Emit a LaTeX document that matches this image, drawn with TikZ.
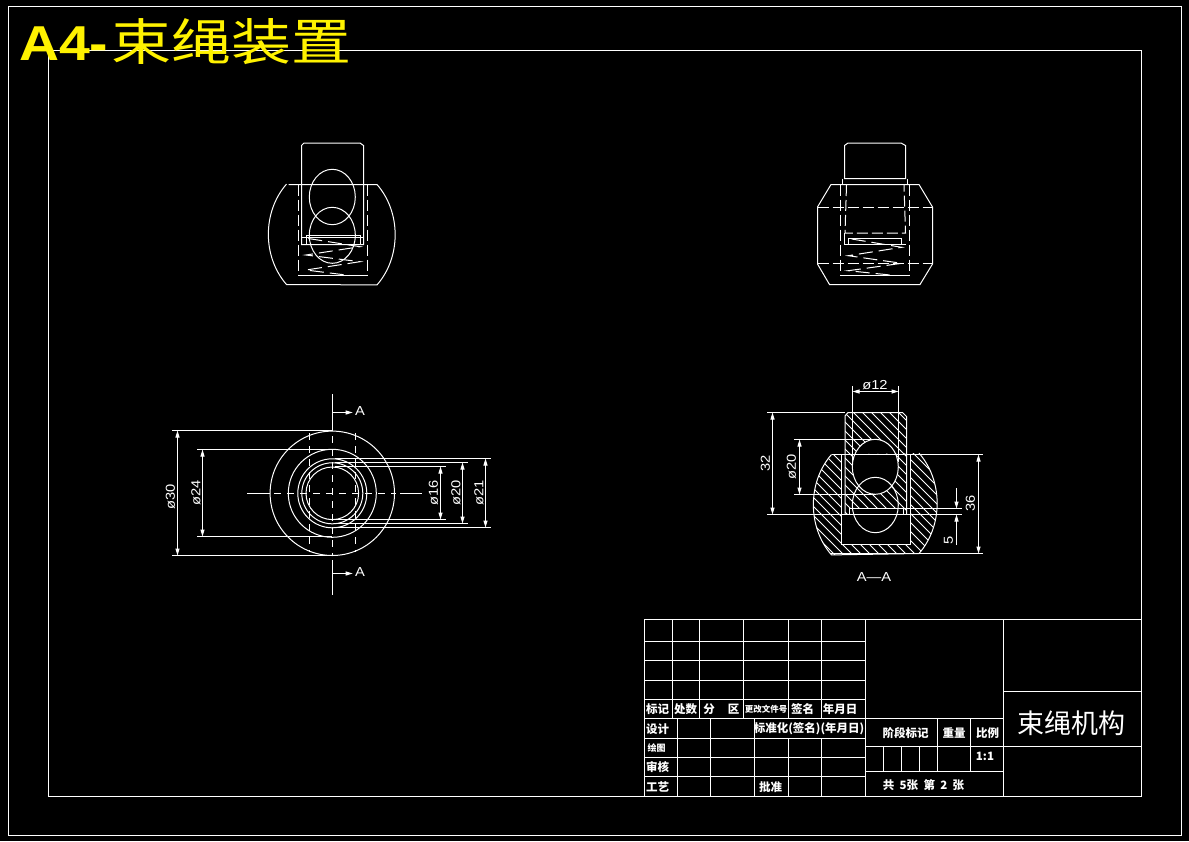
\documentclass[tikz,border=0pt]{standalone}
\usepackage{fontspec}
\setmainfont{Liberation Sans}
\newfontfamily\cjk{Noto Sans CJK SC}
\newfontfamily\cjkwide[FakeStretch=1.2]{Noto Sans CJK SC}
\newfontfamily\latinwide[FakeStretch=1.13]{Liberation Sans}
\usetikzlibrary{arrows.meta}
\tikzset{%
	solidline/.style = {white,line width=1pt},
	hidden/.style    = {white,line width=1pt,dash pattern=on 11pt off 4pt},
	centre/.style    = {white,line width=1pt,dash pattern=on 7pt off 6pt},
	spring/.style    = {white,line width=1pt,dash pattern=on 14pt off 6pt},
	dimline/.style   = {white,line width=1pt,{Triangle[length=7pt,width=4pt]}-{Triangle[length=7pt,width=4pt]}},
	oneway/.style    = {white,line width=1pt,-{Triangle[length=7pt,width=4pt]}},
	dimtext/.style   = {white,inner sep=0,font=\latinwide\fontsize{13}{13}\selectfont},
	sidedim/.style   = {dimtext,rotate=90},
	tabletext/.style = {white,inner sep=0,font=\cjk\bfseries\fontsize{11.5}{11.5}\selectfont},
	smalltext/.style = {white,inner sep=0,font=\cjk\bfseries\fontsize{9}{9}\selectfont},
}
\begin{document}
\begin{tikzpicture}[x=1pt,y=-1pt]
	\fill[black] (0,0) rectangle (1189,841);
	\useasboundingbox (0,0) rectangle (1189,841);
	\draw[solidline] (8.5,6.5) rectangle (1181.5,835.5);  % outer frame
	\draw[solidline] (48.5,50.5) rectangle (1141.5,796.5);  % inner frame
	\node[anchor=west,yellow,inner sep=0] (sheettitle) at (19,42) {\latinwide\bfseries\fontsize{49}{49}\selectfont A4-\cjkwide\mdseries\fontsize{50}{50}\selectfont\hspace{3pt}束绳装置};

	% front view
	\draw[solidline] (301.5,244.5) -- (301.5,145.5) -- (304,143) -- (360,143) -- (363.5,145.5) -- (363.5,244.5) -- cycle;
	\draw[solidline] (301.5,237.5) -- (363.5,237.5);
	\draw[solidline] (306.5,244.5) -- (306.5,235.5) -- (360,235.5) -- (360,244.5);
	\draw[solidline] (288.5,184.5) -- (377,184.5) arc[start angle=-45,end angle=45,x radius=62,y radius=71] -- (286.5,284.5) arc[start angle=135,end angle=225,x radius=62,y radius=71];
	\draw[hidden] (298.5,184.5) -- (298.5,275.5);
	\draw[hidden] (367.5,184.5) -- (367.5,275.5);
	\draw[solidline] (298.5,275.5) -- (367.5,275.5);
	\draw[solidline] (332.3,197) ellipse[x radius=23,y radius=27.7];
	\draw[solidline] (332.3,235.3) ellipse[x radius=23,y radius=28];
	\draw[spring] (308.3,238.5) -- (360,246.7) -- (306,255) -- (360,261.7) -- (306,270) -- (350,275.5);

	% side view
	\draw[solidline] (844.5,178.5) -- (844.5,145.5) -- (848,143) -- (901,143) -- (905.5,145.5) -- (905.5,178.5) -- cycle;
	\draw[solidline] (842.5,178.5) -- (842.5,184.5);
	\draw[solidline] (907.5,178.5) -- (907.5,184.5);
	\draw[solidline] (831,184.5) -- (919,184.5) -- (932.5,207) -- (932.5,264) -- (920,284.5) -- (829.5,284.5) -- (817.5,264) -- (817.5,207) -- cycle;
	\draw[hidden] (817.5,207.5) -- (932.5,207.5);
	\draw[hidden] (817.5,263.5) -- (932.5,263.5);
	\draw[hidden] (840.5,184.5) -- (840.5,275.5);
	\draw[hidden] (909.5,184.5) -- (909.5,275.5);
	\draw[solidline] (840.5,275.5) -- (909.5,275.5);
	\draw[hidden] (846.5,185) -- (845,233) -- (905.5,233) -- (904,185);
	\draw[solidline] (844.5,233) -- (844.5,244.5) -- (906,244.5);
	\draw[solidline] (848.5,244.5) -- (848.5,238.5) -- (901.5,238.5) -- (901.5,244.5);
	\draw[spring] (851.7,239) -- (901.7,247.3) -- (848.3,255.7) -- (901.7,263.3) -- (848.3,270.7) -- (895,275.5);

	% top view
	\draw[solidline] (332.3,493.3) circle[radius=62.2];
	\draw[solidline] (332.3,493.3) circle[radius=44];
	\draw[solidline] (332.3,493.3) circle[radius=34.5];
	\draw[solidline] (332.3,493.3) circle[radius=30.5];
	\draw[solidline] (332.3,493.3) circle[radius=26.3];
	\draw[solidline] (332.5,394) -- (332.5,431);
	\draw[centre] (332.5,436) -- (332.5,555);
	\draw[solidline] (332.5,560) -- (332.5,595);
	\draw[solidline] (247,493.5) -- (270,493.5);
	\draw[centre] (274,493.5) -- (396,493.5);
	\draw[solidline] (400,493.5) -- (422,493.5);
	\draw[centre] (309.5,433) -- (309.5,552);
	\draw[centre] (355.5,433) -- (355.5,552);
	\draw[oneway] (332.5,412.5) -- (352.7,412.5);
	\draw[oneway] (332.5,573.5) -- (352.7,573.5);
	\node[dimtext] (sectiontop) at (360,411) {A};
	\node[dimtext] (sectionbottom) at (360,572) {A};
	\draw[solidline] (172,430.5) -- (332,430.5);
	\draw[solidline] (172,555.5) -- (332,555.5);
	\draw[dimline] (177.5,430.5) -- (177.5,555.5);
	\node[sidedim] (dthirty) at (170.5,497) {ø30};
	\draw[solidline] (197,449.5) -- (332,449.5);
	\draw[solidline] (197,536.5) -- (332,536.5);
	\draw[dimline] (202.5,449.5) -- (202.5,536.5);
	\node[sidedim] (dtwentyfour) at (196,493) {ø24};
	\draw[solidline] (335,466.5) -- (446,466.5);
	\draw[solidline] (335,519.5) -- (446,519.5);
	\draw[dimline] (440.5,466.5) -- (440.5,519.5);
	\node[sidedim] (dsixteen) at (433.5,493) {ø16};
	\draw[solidline] (335,462.5) -- (468,462.5);
	\draw[solidline] (335,523.5) -- (468,523.5);
	\draw[dimline] (462.5,462.5) -- (462.5,523.5);
	\node[sidedim] (dtwenty) at (456,493) {ø20};
	\draw[solidline] (335,458.5) -- (491,458.5);
	\draw[solidline] (335,527.5) -- (491,527.5);
	\draw[dimline] (485.5,458.5) -- (485.5,527.5);
	\node[sidedim] (dtwentyone) at (479,493) {ø21};

	% section A-A, hatching first
	\begin{scope}[even odd rule]
		\clip (845,416) -- (848,412.5) -- (902.5,412.5) -- (906.5,416.5) -- (906.5,514.5) -- (845,514.5) -- cycle
			(875.3,466.8) ellipse[x radius=23,y radius=27.5]
			(849.5,508.5) rectangle (903.5,514.5);
		\foreach \d in {-162,-153,...,162}
			\draw[solidline] (875+\d-60,410) -- (875+\d+60,530);
	\end{scope}
	\begin{scope}[even odd rule]
		\clip (831.5,454.5) arc[start angle=225,end angle=135,x radius=62,y radius=71] -- (919,553.5) arc[start angle=45,end angle=-45,x radius=62,y radius=71] -- cycle
			(841.5,454.5) rectangle (910.5,544);
		\foreach \d in {-180,-171,...,180}
			\draw[solidline] (875+\d-60,445) -- (875+\d+60,565);
	\end{scope}
	\draw[solidline] (845,514.5) -- (845,416) -- (848,412.5) -- (902.5,412.5) -- (906.5,416.5) -- (906.5,514.5);
	\draw[solidline] (831.5,454.5) arc[start angle=225,end angle=135,x radius=62,y radius=71] -- (919,553.5) arc[start angle=45,end angle=-45,x radius=62,y radius=71];
	\draw[solidline] (841.5,454.5) -- (841.5,544) -- (910.5,544) -- (910.5,454.5);
	\draw[solidline] (875.3,466.8) ellipse[x radius=23,y radius=27.5];
	\draw[solidline] (875.3,505) ellipse[x radius=23,y radius=27.7];
	\draw[solidline] (849.5,514.5) -- (849.5,508.5) -- (903.5,508.5) -- (903.5,514.5);
	\draw[solidline] (852.5,386) -- (852.5,462);
	\draw[solidline] (898.5,386) -- (898.5,462);
	\draw[dimline] (852.5,391.5) -- (898.5,391.5);
	\node[dimtext] (dtwelve) at (875,385) {ø12};
	\draw[solidline] (767,412.5) -- (845,412.5);
	\draw[solidline] (767,514.5) -- (962,514.5);
	\draw[dimline] (772.5,412.5) -- (772.5,514.5);
	\node[sidedim] (lthirtytwo) at (765.5,463) {32};
	\draw[solidline] (794,439.5) -- (875,439.5);
	\draw[solidline] (794,494.5) -- (875,494.5);
	\draw[dimline] (799.5,439.5) -- (799.5,494.5);
	\node[sidedim] (dtwentysec) at (791.5,467) {ø20};
	\draw[solidline] (831.5,454.5) -- (983,454.5);
	\draw[solidline] (831,553.5) -- (983,553.5);
	\draw[dimline] (978.5,454.5) -- (978.5,553.5);
	\node[sidedim] (lthirtysix) at (970.5,503) {36};
	\draw[solidline] (903.5,508.5) -- (962,508.5);
	\draw[oneway] (956.5,488) -- (956.5,508.5);
	\draw[oneway] (956.5,545) -- (956.5,514.5);
	\node[sidedim] (lfive) at (948.5,540) {5};
	\node[dimtext] (sectionname) at (874,577.5) {A—A};

	% title block
	\draw[solidline] (644.5,619.5) rectangle (1141.5,796.5);
	\foreach \y in {641.5,660.5,680.5,699.5,718.5,738.5,757.5,776.5}
		\draw[solidline] (644.5,\y) -- (865.5,\y);
	\foreach \x in {672.5,699.5,743.5,788.5,821.5}
		\draw[solidline] (\x,619.5) -- (\x,718.5);
	\foreach \x in {677.5,710.5,754.5}
		\draw[solidline] (\x,718.5) -- (\x,796.5);
	\foreach \x in {788.5,821.5}
		\draw[solidline] (\x,738.5) -- (\x,796.5);
	\draw[solidline] (865.5,619.5) -- (865.5,796.5);
	\draw[solidline] (1003.5,619.5) -- (1003.5,796.5);
	\draw[solidline] (1003.5,691.5) -- (1141.5,691.5);
	\draw[solidline] (865.5,746.5) -- (1141.5,746.5);
	\draw[solidline] (865.5,718.5) -- (1003.5,718.5);
	\draw[solidline] (865.5,771.5) -- (1003.5,771.5);
	\foreach \x in {937.5,970.5}
		\draw[solidline] (\x,718.5) -- (\x,771.5);
	\foreach \x in {883.5,901.5,919.5}
		\draw[solidline] (\x,746.5) -- (\x,771.5);
	\node[tabletext] (biaoji) at (657.7,709) {标记};
	\node[tabletext] (chushu) at (685.7,709) {处数};
	\node[tabletext] (fen) at (709,709) {分};
	\node[tabletext] (qu) at (733.7,709) {区};
	\node[smalltext,font=\cjk\bfseries\fontsize{8.5}{8.5}\selectfont] (gengai) at (766,709) {更改文件号};
	\node[tabletext] (qianming) at (802.7,709) {签名};
	\node[tabletext] (nianyueri) at (840,709) {年月日};
	\node[tabletext] (sheji) at (657.7,729) {设计};
	\node[tabletext] (biaozhun) at (809,729) {标准化(签名)(年月日)};
	\node[smalltext] (huitu) at (656.5,748) {绘图};
	\node[tabletext] (shenhe) at (657.7,767.3) {审核};
	\node[tabletext] (gongyi) at (657.7,786.7) {工艺};
	\node[tabletext] (pizhun) at (770.7,786.7) {批准};
	\node[tabletext] (jieduan) at (905.7,732.7) {阶段标记};
	\node[tabletext] (zhongliang) at (954,732.7) {重量};
	\node[tabletext] (bili) at (987.7,732.7) {比例};
	\node[tabletext] (ratio) at (985,756.7) {1:1};
	\node[tabletext] (sheets) at (923.5,785) {共\ \ 5张\ \ 第\ \ 2\ \ 张};
	\node[white,inner sep=0,font=\cjk\fontsize{27}{27}\selectfont] (drawingname) at (1071.7,723.3) {束绳机构};
\end{tikzpicture}
\end{document}
